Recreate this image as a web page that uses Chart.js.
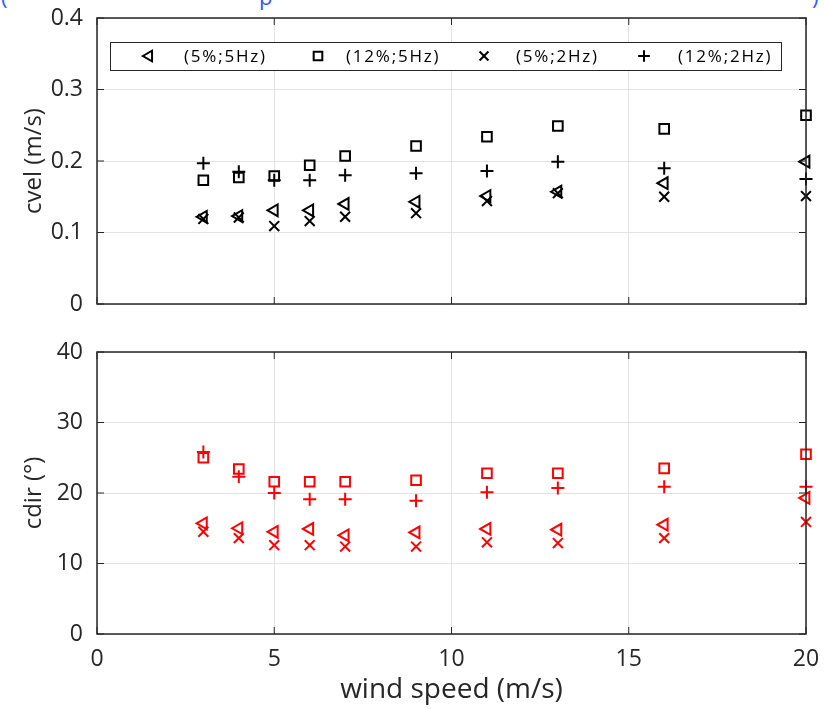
<!DOCTYPE html>
<html><head><meta charset="utf-8">
<script src="https://cdn.jsdelivr.net/npm/chart.js@4"></script>
<style>
html,body{margin:0;padding:0;background:#fff;width:825px;height:709px;overflow:hidden;}
#top{position:absolute;left:0;top:0;width:825px;height:330px;}
#bot{position:absolute;left:0;top:330px;width:825px;height:379px;}
.t{position:absolute;top:-19px;color:#2a5cff;font:22px "Open Sans";}
</style></head><body>
<div class="t" style="left:1px">(</div><div class="t" style="left:259px">p</div><div class="t" style="left:812px">)</div>
<div id="top"><canvas id="c1"></canvas></div>
<div id="bot"><canvas id="c2"></canvas></div>
<script>
const windSpeed = [3, 4, 5, 6, 7, 9, 11, 13, 16, 20];
const seriesLabels = ['(5%;5Hz)', '(12%;5Hz)', '(5%;2Hz)', '(12%;2Hz)'];
const xTicks = [0, 5, 10, 15, 20];
const cvelTicks = [0, 0.1, 0.2, 0.3, 0.4];
const cdirTicks = [0, 10, 20, 30, 40];

// top panel: cvel (m/s)
const cvel_5pct_5Hz  = [0.122, 0.123, 0.131, 0.131, 0.140, 0.143, 0.151, 0.157, 0.169, 0.199];
const cvel_12pct_5Hz = [0.173, 0.177, 0.179, 0.194, 0.207, 0.221, 0.234, 0.249, 0.245, 0.264];
const cvel_5pct_2Hz  = [0.119, 0.121, 0.109, 0.116, 0.122, 0.127, 0.144, 0.155, 0.150, 0.151];
const cvel_12pct_2Hz = [0.197, 0.185, 0.173, 0.173, 0.180, 0.183, 0.186, 0.199, 0.190, 0.175];

// bottom panel: cdir (deg)
const cdir_5pct_5Hz  = [15.7, 15.0, 14.5, 14.9, 14.0, 14.4, 14.9, 14.8, 15.5, 19.3];
const cdir_12pct_5Hz = [25.0, 23.4, 21.6, 21.6, 21.6, 21.8, 22.8, 22.8, 23.5, 25.5];
const cdir_5pct_2Hz  = [14.5, 13.6, 12.6, 12.6, 12.4, 12.4, 13.0, 12.9, 13.6, 15.9];
const cdir_12pct_2Hz = [25.8, 22.3, 20.0, 19.1, 19.1, 18.9, 20.1, 20.7, 20.9, 20.9];

const FONT = '"Open Sans", "DejaVu Sans", sans-serif';
const AX = '#262626';
const markers = [
  {pointStyle: 'triangle', rotation: -90, radius: 6.8},
  {pointStyle: 'rect', rotation: 0, radius: 6.8},
  {pointStyle: 'crossRot', rotation: 0, radius: 7},
  {pointStyle: 'cross', rotation: 0, radius: 6.5}
];

function mkData(arrs, color) {
  return {datasets: arrs.map((a, i) => ({
    label: seriesLabels[i],
    data: windSpeed.map((x, j) => ({x: x, y: a[j]})),
    showLine: false,
    clip: false,
    pointStyle: markers[i].pointStyle,
    pointRotation: markers[i].rotation,
    pointRadius: markers[i].radius,
    pointHoverRadius: markers[i].radius,
    pointBorderWidth: 2,
    pointBorderColor: color,
    pointBackgroundColor: 'rgba(0,0,0,0)'
  }))};
}

const boxPlugin = {
  id: 'box',
  afterDatasetsDraw(chart) {
    const {ctx, chartArea: a, scales} = chart;
    ctx.save();
    ctx.strokeStyle = AX;
    ctx.lineWidth = 1.5;
    ctx.strokeRect(a.left, a.top, a.right - a.left, a.bottom - a.top);
    ctx.lineWidth = 1;
    ctx.beginPath();
    const L = 7;
    xTicks.forEach(v => {
      const px = scales.x.getPixelForValue(v);
      ctx.moveTo(px, a.bottom); ctx.lineTo(px, a.bottom - L);
      ctx.moveTo(px, a.top); ctx.lineTo(px, a.top + L);
    });
    chart.options.plugins.box.yt.forEach(v => {
      const py = scales.y.getPixelForValue(v);
      ctx.moveTo(a.left, py); ctx.lineTo(a.left + L, py);
      ctx.moveTo(a.right, py); ctx.lineTo(a.right - L, py);
    });
    ctx.stroke();
    if (chart.options.plugins.box.legend) {
      const x0 = 110, y0 = 42, x1 = 781, y1 = 70, cy = (y0 + y1) / 2;
      ctx.fillStyle = '#fff';
      ctx.fillRect(x0, y0, x1 - x0, y1 - y0);
      ctx.strokeStyle = AX;
      ctx.lineWidth = 1;
      ctx.strokeRect(x0 + 0.5, y0 + 0.5, x1 - x0, y1 - y0);
      const mx = [149, 318, 484, 644];
      const tx = [184, 346, 516, 678];
      chart.data.datasets.forEach((ds, i) => {
        ctx.strokeStyle = '#000';
        ctx.fillStyle = 'rgba(0,0,0,0)';
        ctx.lineWidth = 2;
        Chart.helpers.drawPoint(ctx, {pointStyle: markers[i].pointStyle, rotation: markers[i].rotation,
          radius: markers[i].radius * 0.9, borderWidth: 2}, mx[i], cy);
        ctx.fillStyle = '#000';
        ctx.font = '17px ' + FONT;
        try { ctx.letterSpacing = '1.8px'; } catch (e) {}
        ctx.textBaseline = 'middle';
        ctx.textAlign = 'left';
        ctx.fillText(ds.label, tx[i], cy + 1);
        try { ctx.letterSpacing = '0px'; } catch (e) {}
      });
    }
    ctx.restore();
  }
};

function baseOptions(yMax, yTitle, yt, isTop) {
  return {
    responsive: true, maintainAspectRatio: false, animation: false, devicePixelRatio: 1,
    layout: {padding: {left: 0, right: 19, top: isTop ? 18 : 22, bottom: isTop ? 26 : 0}},
    plugins: {legend: {display: false}, tooltip: {enabled: false}, box: {yt: yt, legend: isTop}},
    scales: {
      x: {
        type: 'linear', min: 0, max: 20,
        afterBuildTicks: s => { s.ticks = xTicks.map(v => ({value: v})); },
        afterFit: s => { s.height = isTop ? 0 : 75; s.paddingLeft = 0; s.paddingRight = 0; },
        grid: {color: '#e3e3e3', lineWidth: 1, drawTicks: false},
        border: {display: false},
        ticks: {display: !isTop, color: AX, font: {family: FONT, size: 23}, padding: 12, maxRotation: 0},
        title: {display: !isTop, text: 'wind speed (m/s)', color: AX, font: {family: FONT, size: 28}, padding: {top: 0, bottom: 2}}
      },
      y: {
        type: 'linear', min: 0, max: yMax,
        afterBuildTicks: s => { s.ticks = yt.map(v => ({value: v})); },
        afterFit: s => { s.width = 97; s.paddingTop = 0; s.paddingBottom = 0; },
        grid: {color: '#e3e3e3', lineWidth: 1, drawTicks: false},
        border: {display: false},
        ticks: {color: AX, font: {family: FONT, size: 23}, padding: 14},
        title: {display: true, text: yTitle, color: AX, font: {family: FONT, size: 24}, padding: {top: 20, bottom: 0}}
      }
    }
  };
}

new Chart(document.getElementById('c1'), {
  type: 'scatter',
  data: mkData([cvel_5pct_5Hz, cvel_12pct_5Hz, cvel_5pct_2Hz, cvel_12pct_2Hz], '#000'),
  options: baseOptions(0.4, 'cvel (m/s)', cvelTicks, true),
  plugins: [boxPlugin]
});
new Chart(document.getElementById('c2'), {
  type: 'scatter',
  data: mkData([cdir_5pct_5Hz, cdir_12pct_5Hz, cdir_5pct_2Hz, cdir_12pct_2Hz], '#ff0000'),
  options: baseOptions(40, 'cdir (\u00b0)', cdirTicks, false),
  plugins: [boxPlugin]
});
</script>
</body></html>
